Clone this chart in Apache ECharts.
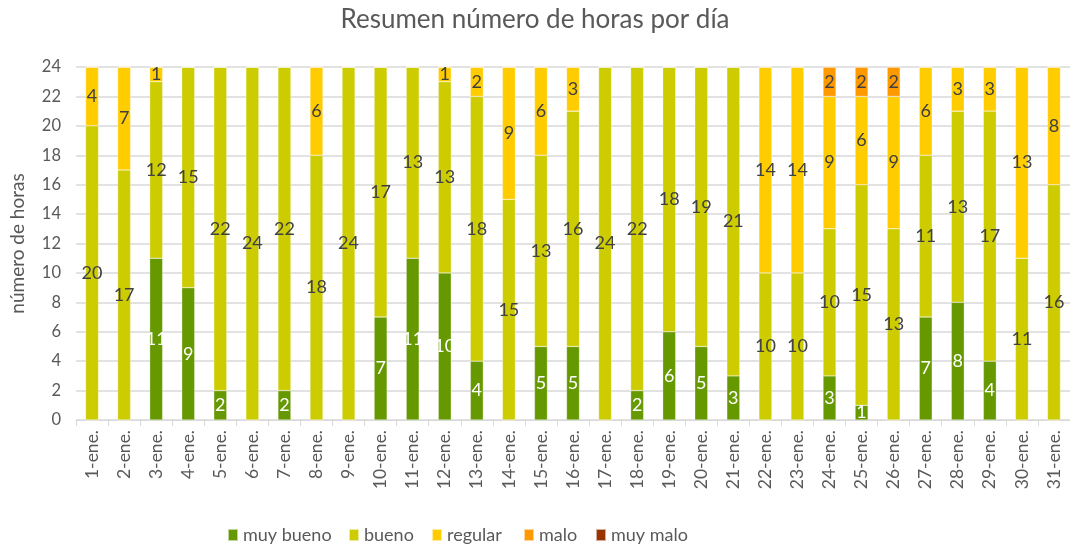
<!DOCTYPE html>
<html><head><meta charset="utf-8">
<script src="https://cdn.jsdelivr.net/npm/echarts@6/dist/echarts.min.js"></script>
<style>html,body{margin:0;padding:0;background:#fff}#c{width:1070px;height:549px}</style>
</head><body><div id="c"></div>
<script>
const categories = ["1-ene.","2-ene.","3-ene.","4-ene.","5-ene.","6-ene.","7-ene.","8-ene.","9-ene.","10-ene.","11-ene.","12-ene.","13-ene.","14-ene.","15-ene.","16-ene.","17-ene.","18-ene.","19-ene.","20-ene.","21-ene.","22-ene.","23-ene.","24-ene.","25-ene.","26-ene.","27-ene.","28-ene.","29-ene.","30-ene.","31-ene."];
const muyBueno = [0,0,11,9,2,0,2,0,0,7,11,10,4,0,5,5,0,2,6,5,3,0,0,3,1,0,7,8,4,0,0];
const bueno    = [20,17,12,15,22,24,22,18,24,17,13,13,18,15,13,16,24,22,18,19,21,10,10,10,15,13,11,13,17,11,16];
const regular  = [4,7,1,0,0,0,0,6,0,0,0,1,2,9,6,3,0,0,0,0,0,14,14,9,6,9,6,3,3,13,8];
const malo     = [0,0,0,0,0,0,0,0,0,0,0,0,0,0,0,0,0,0,0,0,0,0,0,2,2,2,0,0,0,0,0];
const muyMalo  = [0,0,0,0,0,0,0,0,0,0,0,0,0,0,0,0,0,0,0,0,0,0,0,0,0,0,0,0,0,0,0];
const yTicks = [0,2,4,6,8,10,12,14,16,18,20,22,24];
const seriesNames = ['muy bueno','bueno','regular','malo','muy malo'];

const FONT = 'Lato, "Open Sans", sans-serif';
function mk(name, data, color, labelColor){
  return {
    name, type:'bar', stack:'h', data, barWidth:13,
    itemStyle:{color, borderColor:'rgba(255,255,255,0.6)', borderWidth:0.5},
    label:{show:true, position:'inside', color:labelColor, fontFamily:FONT, fontSize:18,
      formatter:p=>p.value>0?String(p.value):''},
    emphasis:{disabled:true}
  };
}
const legendLefts = [227, 348, 431, 523, 595];
const legends = seriesNames.map((n,i)=>({
  data:[n], left:legendLefts[i], top:526, padding:0, itemWidth:10, itemHeight:12, itemGap:5,
  icon:'rect', selectedMode:false,
  textStyle:{fontFamily:FONT, fontSize:18, color:'#595959'}
}));
const chart = echarts.init(document.getElementById('c'));
chart.setOption({
  animation:false,
  textStyle:{fontFamily:FONT},
  title:{text:'Resumen número de horas por día', left:'center', top:2,
    textStyle:{fontFamily:FONT, fontSize:26, fontWeight:'normal', color:'#595959'}},
  grid:{left:73, right:-6, top:67, bottom:129},
  legend:legends,
  xAxis:{type:'category', data:categories,
    axisLine:{lineStyle:{color:'#d9d9d9'}},
    axisTick:{show:true, length:6, lineStyle:{color:'#d9d9d9'}},
    axisLabel:{rotate:90, fontFamily:FONT, fontSize:17.5, color:'#595959', margin:10}},
  yAxis:{type:'value', min:yTicks[0], max:yTicks[yTicks.length-1], interval:2,
    name:'número de horas', nameLocation:'middle', nameGap:49,
    nameTextStyle:{fontFamily:FONT, fontSize:19, color:'#595959'},
    axisLine:{show:false}, axisTick:{show:false},
    axisLabel:{fontFamily:FONT, fontSize:16.5, color:'#595959', margin:15},
    splitLine:{lineStyle:{color:'#d9d9d9', width:1.5}}},
  series:[
    mk(seriesNames[0], muyBueno, '#669900', '#ffffff'),
    mk(seriesNames[1], bueno, '#cccc00', '#404040'),
    mk(seriesNames[2], regular, '#ffcc00', '#404040'),
    mk(seriesNames[3], malo, '#ff9900', '#404040'),
    mk(seriesNames[4], muyMalo, '#993300', '#404040')
  ]
});
</script></body></html>
